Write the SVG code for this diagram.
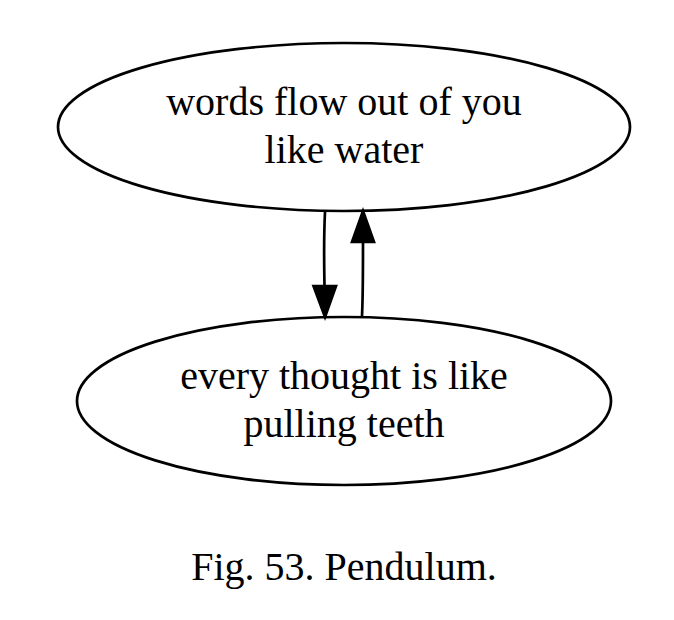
<svg xmlns="http://www.w3.org/2000/svg" width="674" height="620" viewBox="0 0 674 620">
<style>
.n{fill:none;stroke:#000;stroke-width:2.7}
.e{fill:none;stroke:#000;stroke-width:2.7}
.h{fill:#000;stroke:#000;stroke-width:2.7}
text{font-family:"Liberation Serif","Times New Roman",serif;font-size:40px;fill:#000;text-anchor:middle}
</style>
<rect width="674" height="620" fill="#fff"/>
<g id="node1">
<ellipse class="n" cx="344" cy="127" rx="286" ry="84"/>
<text x="344" y="115">words flow out of you</text>
<text x="344" y="163">like water</text>
</g>
<g id="node2">
<ellipse class="n" cx="344" cy="401" rx="267" ry="84"/>
<text x="344" y="389">every thought is like</text>
<text x="344" y="437">pulling teeth</text>
</g>
<g id="edges">
<path class="e" d="M325,212 C324,232 324,262 324.5,286"/>
<polygon class="h" points="313.5,286 325,317 336,286"/>
<path class="e" d="M362,316 C363,296 363,266 363,242"/>
<polygon class="h" points="352,242 363,211 374,242"/>
</g>
<text x="344" y="580">Fig. 53. Pendulum.</text>
</svg>
